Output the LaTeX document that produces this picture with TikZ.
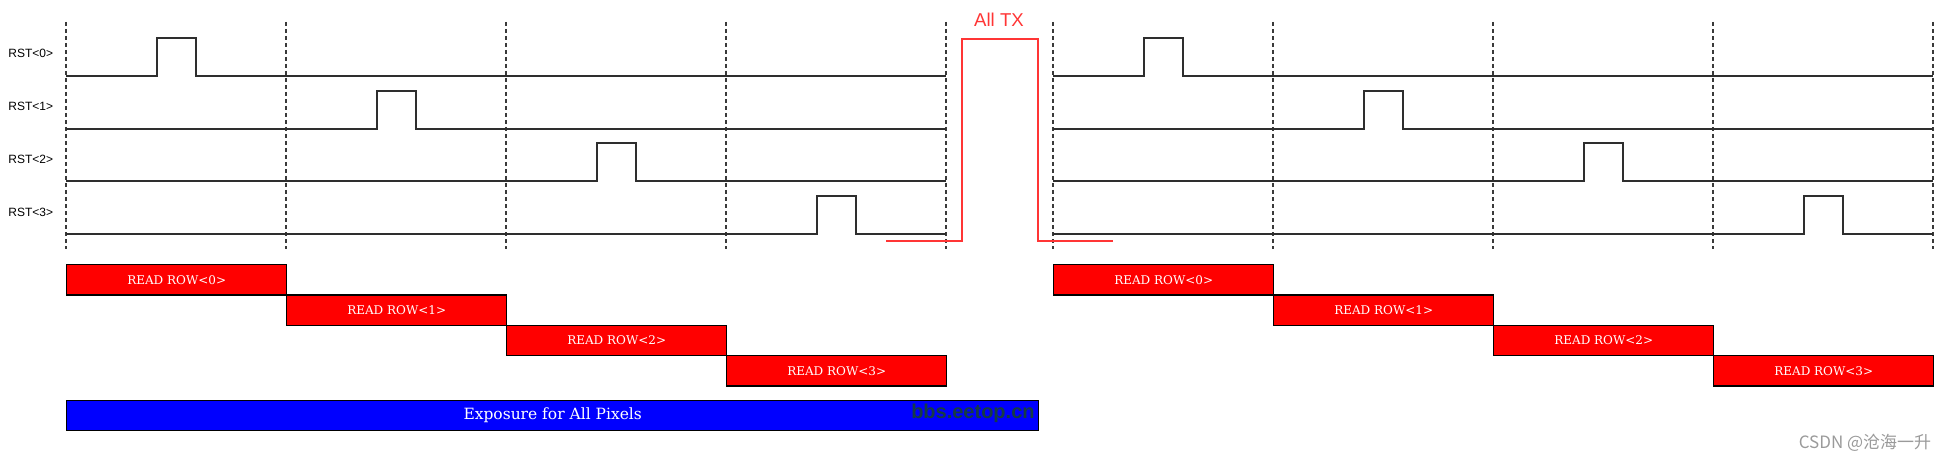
\documentclass[tikz,border=0pt]{standalone}
\usepackage{fontspec}
\usepackage{xcolor}
\usepackage{tikz}
\usetikzlibrary{positioning}
\setmainfont{Liberation Sans}
\newfontfamily\rowfont{DejaVu Serif}
\newfontfamily\cjkfont{Noto Sans CJK SC}
\definecolor{tmRed}{HTML}{FF0000}
\definecolor{tmBlue}{HTML}{0000FF}
\definecolor{tmTx}{HTML}{FF3535}
\definecolor{tmWave}{HTML}{2E2E2E}
\definecolor{tmGrid}{HTML}{3A3A3A}
\definecolor{tmMark}{HTML}{163B45}
\definecolor{tmCsdn}{HTML}{9A9A9A}
\tikzset{
  tm/grid/.style    = {draw=tmGrid, line width=0.9pt, dash pattern=on 2pt off 1.5pt},
  tm/wave/.style    = {draw=tmWave, line width=1pt},
  tm/tx/.style      = {draw=tmTx, line width=1pt},
  tm/rst/.style     = {anchor=west, inner sep=0pt, font=\fontsize{6}{7}\selectfont},
  tm/read/.style    = {anchor=north west, draw=black, fill=tmRed, line width=0.7pt, inner sep=0pt,
                       minimum width=110pt, minimum height=15.15pt, text=white,
                       font=\rowfont\fontsize{6}{7}\selectfont},
  tm/expo/.style    = {tm/read, fill=tmBlue, minimum width=486pt, minimum height=15pt,
                       font=\rowfont\fontsize{7.75}{9}\selectfont},
  tm/txlabel/.style = {text=tmTx, inner sep=0pt, font=\fontsize{9.3}{11}\selectfont},
  tm/mark/.style    = {anchor=east, inner sep=0pt, text=tmMark, font=\bfseries\fontsize{10}{12}\selectfont},
  tm/csdn/.style    = {inner sep=0pt, text=tmCsdn, font=\cjkfont\fontsize{8.5}{10}\selectfont},
}
\begin{document}
\begin{tikzpicture}[x=0.5pt, y=-0.5pt]
  \useasboundingbox (0,0) rectangle (1950,460);
  % time slots
  \foreach \x in {66,286,506,726,946,1053,1273,1493,1713,1933}
    \draw[tm/grid] (\x,22) -- (\x,249);
  % row labels
  \foreach \k in {0,...,3}
    \node[tm/rst] (rst\k) at (8,{53+53*\k}) {RST<\k>};
  % reset pulses, two frames
  \foreach \off in {0,987} {
    \foreach \k in {0,...,3} {
      \pgfmathsetmacro\yb{76+52.7*\k}
      \pgfmathsetmacro\xa{157+\off+220*\k}
      \draw[tm/wave] (66+\off,\yb) -- (\xa,\yb) -- (\xa,\yb-38) -- (\xa+39,\yb-38)
                     -- (\xa+39,\yb) -- (946+\off,\yb);
    }
  }
  % global transfer
  \draw[tm/tx] (886,241) -- (962,241) -- (962,39) -- (1038,39) -- (1038,241) -- (1113,241);
  \node[tm/txlabel] (tx) at (999,20) {All TX};
  % readout
  \foreach \off/\h in {0/a,987/b} {
    \foreach \k in {0,...,3}
      \node[tm/read] (read\h\k) at ({66+\off+220*\k},{264+30.3*\k}) {READ ROW<\k>};
  }
  \node[tm/expo] (expo) at (66,400) {Exposure for All Pixels};
  \node[tm/mark] (mark) at (1035,413) {bbs.eetop.cn};
  \node[tm/csdn] (csdn) at (1865,443) {CSDN @沧海一升};
\end{tikzpicture}
\end{document}
